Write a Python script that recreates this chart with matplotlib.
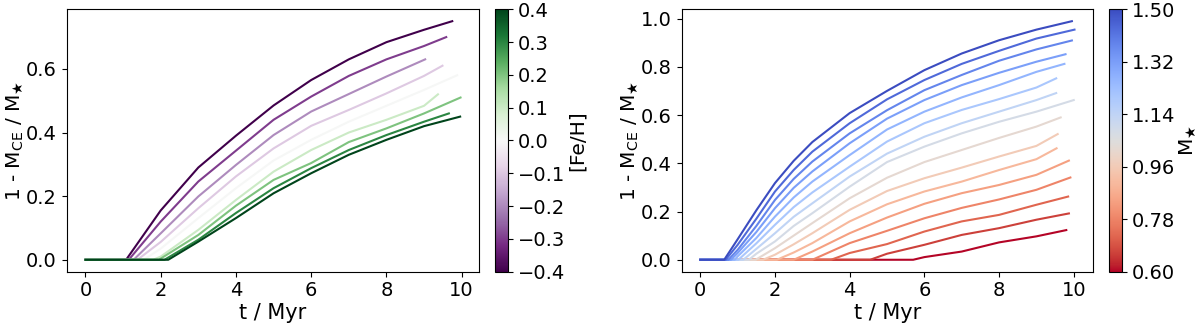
import numpy as np
import matplotlib
matplotlib.use("Agg")
import matplotlib.pyplot as plt
from matplotlib.colors import Normalize
from matplotlib.cm import ScalarMappable

# --- left panel: metallicity series ---
feh = [-0.4, -0.3, -0.2, -0.1, 0.0, 0.1, 0.2, 0.3, 0.4]
feh_grid = [2, 3, 4, 5, 6, 7, 8, 9]
feh_onset = [1.08, 1.15, 1.28, 1.38, 1.55, 1.8, 1.95, 2.1, 2.2]
feh_tend = [9.75, 9.59, 9.03, 9.49, 9.88, 9.37, 9.97, 9.66, 9.96]
feh_yend = [0.750, 0.700, 0.630, 0.610, 0.580, 0.520, 0.510, 0.460, 0.450]
feh_vals = [
    [0.155, 0.290, 0.390, 0.485, 0.565, 0.630, 0.684, 0.723],
    [0.120, 0.246, 0.343, 0.440, 0.513, 0.578, 0.630, 0.672],
    [0.083, 0.199, 0.298, 0.392, 0.466, 0.521, 0.576, None],
    [0.056, 0.162, 0.262, 0.350, 0.421, 0.471, 0.523, 0.578],
    [0.035, 0.131, 0.225, 0.312, 0.377, 0.434, 0.484, 0.534],
    [0.010, 0.094, 0.188, 0.277, 0.345, 0.400, 0.440, 0.484],
    [None, 0.078, 0.170, 0.251, 0.304, 0.370, 0.413, 0.460],
    [None, 0.063, 0.147, 0.225, 0.288, 0.345, 0.392, 0.434],
    [None, 0.057, 0.131, 0.209, 0.272, 0.330, 0.377, 0.420],
]

# --- right panel: stellar mass series ---
mass = [0.60, 0.66, 0.72, 0.78, 0.84, 0.90, 0.96, 1.02,
        1.08, 1.14, 1.20, 1.26, 1.32, 1.38, 1.44, 1.50]
mass_grid = [1, 1.5, 2, 2.5, 3, 4, 5, 6, 7, 8, 9]
mass_onset = [5.7, 4.55, 3.5, 3.0, 2.5, 2.05, 1.68, 1.48,
              1.3, 1.15, 1.02, 0.92, 0.82, 0.75, 0.68, 0.64]
mass_tend = [9.80, 9.87, 9.85, 9.91, 9.87, 9.54, 9.57, 9.65,
             10.0, 9.53, 9.53, 9.75, 9.78, 9.95, 10.02, 9.95]
mass_yend = [0.123, 0.192, 0.262, 0.341, 0.411, 0.462, 0.521, 0.590,
             0.662, 0.691, 0.752, 0.812, 0.852, 0.909, 0.954, 0.989]
mass_vals = [
    [None, None, None, None, None, None, None, 0.011, 0.034, 0.072, 0.097],
    [None, None, None, None, None, None, 0.025, 0.062, 0.103, 0.131, 0.166],
    [None, None, None, None, None, 0.028, 0.065, 0.117, 0.159, 0.186, 0.228],
    [None, None, None, None, None, 0.069, 0.120, 0.172, 0.215, 0.250, 0.290],
    [None, None, None, None, 0.034, 0.110, 0.175, 0.232, 0.276, 0.310, 0.352],
    [None, None, None, 0.030, 0.069, 0.159, 0.230, 0.283, 0.324, 0.372, 0.417],
    [None, None, 0.021, 0.064, 0.110, 0.207, 0.285, 0.338, 0.382, 0.428, 0.472],
    [None, None, 0.048, 0.100, 0.152, 0.255, 0.340, 0.405, 0.455, 0.505, 0.552],
    [None, 0.025, 0.076, 0.140, 0.193, 0.303, 0.405, 0.469, 0.524, 0.572, 0.614],
    [None, 0.045, 0.110, 0.178, 0.234, 0.345, 0.440, 0.510, 0.566, 0.614, 0.662],
    [None, 0.068, 0.145, 0.218, 0.279, 0.386, 0.490, 0.566, 0.621, 0.666, 0.714],
    [0.014, 0.090, 0.179, 0.258, 0.324, 0.434, 0.540, 0.614, 0.673, 0.724, 0.779],
    [0.028, 0.115, 0.214, 0.298, 0.366, 0.483, 0.585, 0.662, 0.724, 0.775, 0.821],
    [0.041, 0.140, 0.248, 0.335, 0.407, 0.524, 0.620, 0.703, 0.766, 0.825, 0.872],
    [0.062, 0.170, 0.283, 0.372, 0.448, 0.566, 0.665, 0.745, 0.812, 0.866, 0.917],
    [0.085, 0.205, 0.318, 0.410, 0.488, 0.608, 0.700, 0.786, 0.855, 0.910, 0.954],
]


def build_curve(grid, onset, vals, tend, yend):
    t = [0.0, onset]
    y = [0.0, 0.0]
    for g, v in zip(grid, vals):
        if v is not None and onset < g < tend:
            t.append(g)
            y.append(v)
    t.append(tend)
    y.append(yend)
    return t, y


plt.rcParams['font.size'] = 14
fig = plt.figure(figsize=(12, 3.26), dpi=100)
ax1 = fig.add_axes([0.0556, 0.1666, 0.3438, 0.805])
cax1 = fig.add_axes([0.4125, 0.1666, 0.0111, 0.805])
ax2 = fig.add_axes([0.568, 0.1666, 0.343, 0.805])
cax2 = fig.add_axes([0.9242, 0.1666, 0.0111, 0.805])

norm1 = Normalize(vmin=-0.4, vmax=0.4)
cmap1 = plt.get_cmap('PRGn')
for i in range(len(feh)):
    t, y = build_curve(feh_grid, feh_onset[i], feh_vals[i], feh_tend[i], feh_yend[i])
    ax1.plot(t, y, color=cmap1(norm1(feh[i])), lw=1.5)

norm2 = Normalize(vmin=0.6, vmax=1.5)
cmap2 = plt.get_cmap('coolwarm_r')
for i in range(len(mass)):
    t, y = build_curve(mass_grid, mass_onset[i], mass_vals[i], mass_tend[i], mass_yend[i])
    ax2.plot(t, y, color=cmap2(norm2(mass[i])), lw=1.5)

ylab = r'1 - M$_{\rm CE}$ / M$_\bigstar$'
for ax in (ax1, ax2):
    ax.set_xlabel('t / Myr', fontsize=15, labelpad=2)
    ax.set_ylabel(ylab, fontsize=14.5, labelpad=1)
    ax.set_xticks([0, 2, 4, 6, 8, 10])

ax1.set_yticks([0.0, 0.2, 0.4, 0.6])
ax2.set_yticks([0.0, 0.2, 0.4, 0.6, 0.8, 1.0])

cb1 = fig.colorbar(ScalarMappable(norm=norm1, cmap=cmap1), cax=cax1)
cb1.set_ticks([-0.4, -0.3, -0.2, -0.1, 0.0, 0.1, 0.2, 0.3, 0.4])
cb1.set_label('[Fe/H]', fontsize=14.5, labelpad=2)

cb2 = fig.colorbar(ScalarMappable(norm=norm2, cmap=cmap2), cax=cax2)
cb2.set_ticks([0.60, 0.78, 0.96, 1.14, 1.32, 1.50])
cb2.set_ticklabels(['0.60', '0.78', '0.96', '1.14', '1.32', '1.50'])
cb2.set_label(r'M$_\bigstar$', fontsize=14.5, labelpad=1)

fig.savefig('out.png', dpi=100)
